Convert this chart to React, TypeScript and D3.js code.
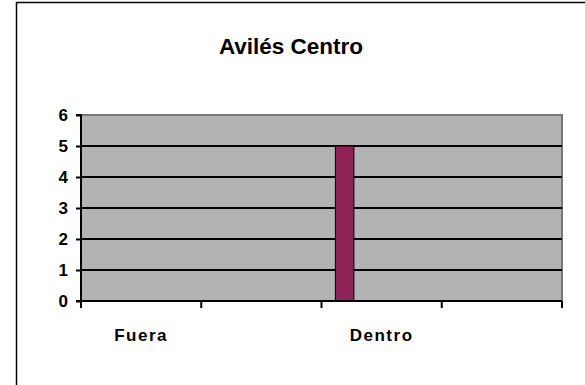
import React, { useEffect, useRef } from "react";
import * as d3 from "d3";

// categories along the x axis (2nd and 4th have no label in the original)
const categoryLabels = ["Fuera", "", "Dentro", ""];
const seriesNames = ["Serie1", "Serie2", "Serie3", "Serie4", "Serie5"];
const serie1 = [0, 0, 5, 0];
const serie2 = [0, 0, 0, 0];
const serie3 = [0, 0, 0, 0];
const serie4 = [0, 0, 0, 0];
const serie5 = [0, 0, 0, 0];
const yTicks = [0, 1, 2, 3, 4, 5, 6];
const title = "Avilés Centro";

const seriesValues = [serie1, serie2, serie3, serie4, serie5];
const seriesColors = ["#8f2356", "#8f2356", "#8f2356", "#8f2356", "#8f2356"];

export default function App() {
  const chartRef = useRef<SVGSVGElement>(null);

  useEffect(() => {
    const svg = d3.select(chartRef.current);
    svg.selectAll("*").remove();

    const left = 81, right = 562, top = 115, bottom = 301;
    const font = "Arial, 'Liberation Sans', sans-serif";

    // outer chart frame (continues past the picture edge)
    svg.append("rect")
      .attr("x", 16.5).attr("y", 2.5)
      .attr("width", 620).attr("height", 420)
      .attr("fill", "#fff")
      .attr("stroke", "#000")
      .attr("stroke-width", 1.5);

    svg.append("text")
      .attr("x", 291).attr("y", 54)
      .attr("text-anchor", "middle")
      .attr("font-family", font)
      .attr("font-weight", "bold")
      .attr("font-size", 22.5)
      .text(title);

    const idx = categoryLabels.map((d, i) => String(i));
    const x0 = d3.scaleBand().domain(idx).range([left, right]).padding(0);
    const x1 = d3.scaleBand().domain(seriesNames)
      .range([0, x0.bandwidth()])
      .paddingInner(0).paddingOuter(0.75);
    const y = d3.scaleLinear().domain([0, 6]).range([bottom, top]);

    // plot area
    svg.append("rect")
      .attr("x", left).attr("y", top)
      .attr("width", right - left).attr("height", bottom - top)
      .attr("fill", "#b3b3b3");

    svg.append("path")
      .attr("d", `M${left},${top}H${right}V${bottom}`)
      .attr("fill", "none")
      .attr("stroke", "#777")
      .attr("stroke-width", 2);

    // gridlines
    svg.append("g")
      .selectAll("line")
      .data(yTicks.filter(t => t > 0 && t < 6))
      .enter().append("line")
        .attr("x1", left).attr("x2", right)
        .attr("y1", d => y(d)).attr("y2", d => y(d))
        .attr("stroke", "#000")
        .attr("stroke-width", 2);

    // bars
    svg.append("g")
      .selectAll("g")
      .data(seriesNames)
      .enter().append("g")
        .attr("fill", (d, i) => seriesColors[i])
      .selectAll("rect")
      .data((d, i) => seriesValues[i].map((v, j) => ({ s: d, v, j })).filter(e => e.v > 0))
      .enter().append("rect")
        .attr("x", d => (x0(String(d.j)) as number) + (x1(d.s) as number))
        .attr("y", d => y(d.v))
        .attr("width", x1.bandwidth())
        .attr("height", d => y(0) - y(d.v))
        .attr("stroke", "#000")
        .attr("stroke-width", 1);

    // y axis
    const yAxis = d3.axisLeft(y).tickValues(yTicks).tickSize(5).tickPadding(8)
      .tickFormat(d3.format("d"));
    const gy = svg.append("g").attr("transform", `translate(${left},0)`).call(yAxis);
    gy.select(".domain").attr("stroke-width", 2).attr("d", `M-5,${top}H0V${bottom}`);
    gy.selectAll(".tick line").attr("stroke-width", 2);
    gy.selectAll("text")
      .attr("font-family", font)
      .attr("font-weight", "bold")
      .attr("font-size", 17)
      .attr("fill", "#000");

    // x axis
    const gx = svg.append("g").attr("transform", `translate(0,${bottom})`);
    gx.append("line")
      .attr("x1", left - 5).attr("x2", right)
      .attr("stroke", "#000").attr("stroke-width", 2);
    gx.selectAll("line.tk")
      .data(idx.map(d => x0(d) as number).concat([right]))
      .enter().append("line")
        .attr("class", "tk")
        .attr("x1", d => d).attr("x2", d => d)
        .attr("y1", 0).attr("y2", 7)
        .attr("stroke", "#000").attr("stroke-width", 2);
    gx.selectAll("text")
      .data(idx)
      .enter().append("text")
        .attr("x", d => (x0(d) as number) + x0.bandwidth() / 2)
        .attr("y", 40)
        .attr("text-anchor", "middle")
        .attr("font-family", font)
        .attr("font-weight", "bold")
        .attr("font-size", 17)
        .attr("letter-spacing", 1.5)
        .text(d => categoryLabels[+d]);
  }, []);

  return (
    <svg ref={chartRef} width={585} height={385}
      style={{ position: "absolute", left: 0, top: 0, background: "#fff" }} />
  );
}
